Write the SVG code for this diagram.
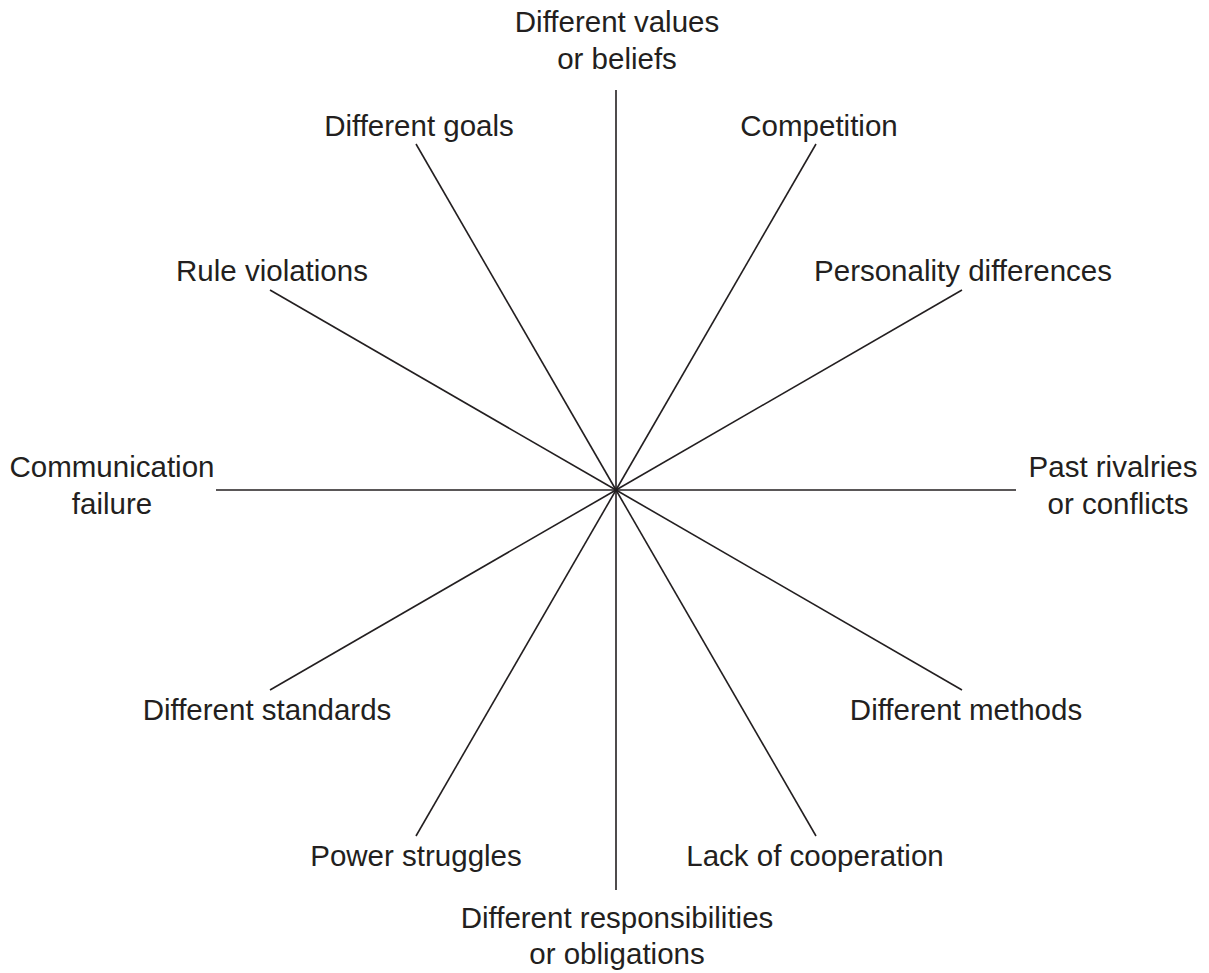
<svg xmlns="http://www.w3.org/2000/svg" width="1209" height="973" viewBox="0 0 1209 973">
<style>
.t{font-family:"Liberation Sans",Arial,sans-serif;font-size:29.5px;fill:#231f20;text-anchor:middle}
.c line{stroke:#231f20;stroke-width:1.6}
</style>
<rect width="1209" height="973" fill="#fff"/>
<g id="connectors" class="c">
<line x1="616" y1="490" x2="616" y2="90"/>
<line x1="616" y1="490" x2="816" y2="144"/>
<line x1="616" y1="490" x2="962" y2="290"/>
<line x1="616" y1="490" x2="1016" y2="490"/>
<line x1="616" y1="490" x2="962" y2="690"/>
<line x1="616" y1="490" x2="816" y2="836"/>
<line x1="616" y1="490" x2="616" y2="890"/>
<line x1="616" y1="490" x2="416" y2="836"/>
<line x1="616" y1="490" x2="270" y2="690"/>
<line x1="616" y1="490" x2="216" y2="490"/>
<line x1="616" y1="490" x2="270" y2="290"/>
<line x1="616" y1="490" x2="416" y2="144"/>
</g>
<g id="n-values"><text class="t" x="617" y="32">Different values</text><text class="t" x="617" y="69">or beliefs</text></g>
<g id="n-competition"><text class="t" x="819" y="136">Competition</text></g>
<g id="n-personality"><text class="t" x="963" y="281">Personality differences</text></g>
<g id="n-past"><text class="t" x="1113" y="477">Past rivalries</text><text class="t" x="1118" y="514">or conflicts</text></g>
<g id="n-methods"><text class="t" x="966" y="720">Different methods</text></g>
<g id="n-cooperation"><text class="t" x="815" y="866">Lack of cooperation</text></g>
<g id="n-responsibilities"><text class="t" x="617" y="928">Different responsibilities</text><text class="t" x="617" y="964">or obligations</text></g>
<g id="n-power"><text class="t" x="416" y="866">Power struggles</text></g>
<g id="n-standards"><text class="t" x="267" y="720">Different standards</text></g>
<g id="n-communication"><text class="t" x="112" y="477">Communication</text><text class="t" x="112" y="514">failure</text></g>
<g id="n-rule"><text class="t" x="272" y="281">Rule violations</text></g>
<g id="n-goals"><text class="t" x="419" y="136">Different goals</text></g>
</svg>
